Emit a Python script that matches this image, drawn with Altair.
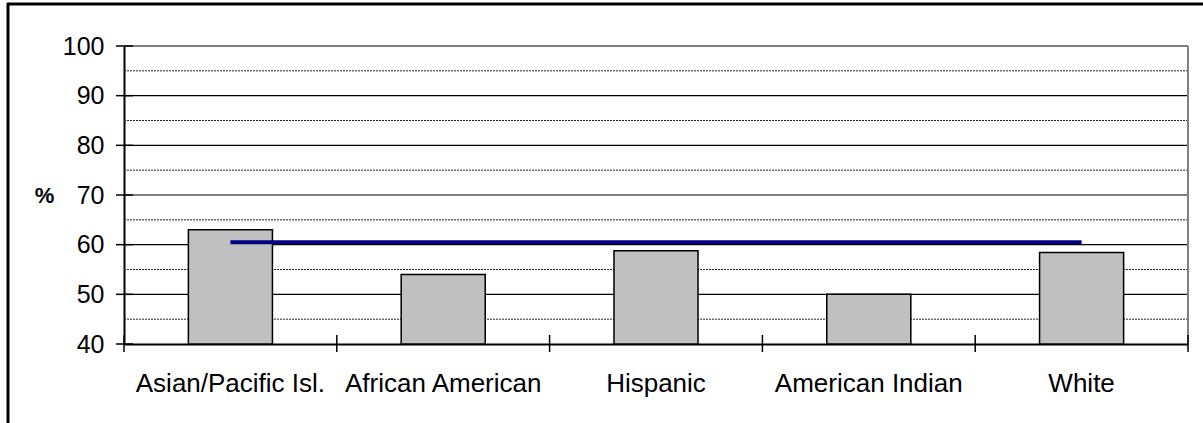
import altair as alt
import pandas as pd

categories = ["Asian/Pacific Isl.", "African American", "Hispanic", "American Indian", "White"]
values = [63.0, 54.0, 58.8, 50.0, 58.4]
overall = [60.5, 60.5, 60.5, 60.5, 60.5]
major_ticks = [40, 50, 60, 70, 80, 90, 100]
major_grid = [50, 60, 70, 80, 90]
minor_grid = [45, 55, 65, 75, 85, 95]

W, H = 1064, 298
FONT = "Liberation Sans"

df = pd.DataFrame({"cat": categories, "val": values, "avg": overall})
x_enc = alt.X("cat:N", sort=categories,
              scale=alt.Scale(paddingInner=0, paddingOuter=0),
              axis=alt.Axis(title=None, labelAngle=0, ticks=False, grid=False,
                            domainColor="black", domainWidth=2, labelLimit=0,
                            labelFont=FONT, labelFontSize=26, labelColor="black",
                            labelPadding=26))
y_scale = alt.Scale(domain=[40, 100], nice=False, zero=False)

minor = alt.Chart(pd.DataFrame({"v": minor_grid})).mark_rule(
    color="#222222", strokeWidth=1, strokeDash=[2, 1]).encode(
    y=alt.Y("v:Q", scale=y_scale))
major = alt.Chart(pd.DataFrame({"v": major_grid})).mark_rule(
    color="black", strokeWidth=1.2).encode(
    y=alt.Y("v:Q", scale=y_scale))

bars = alt.Chart(df).mark_bar(
    width=alt.RelativeBandSize(0.395), color="#C0C0C0", stroke="black", strokeWidth=1.5
).encode(
    x=x_enc,
    y=alt.Y("val:Q", scale=y_scale,
            axis=alt.Axis(values=major_ticks, grid=False, ticks=False,
                          domainColor="black", domainWidth=2,
                          labelFont=FONT, labelFontSize=25, labelColor="black",
                          labelPadding=20,
                          title="%", titleAngle=0, titleFont=FONT, titleFontSize=22,
                          titleFontWeight="bold", titleColor="black",
                          titleAlign="center", titleBaseline="middle",
                          titleX=-80, titleY=149)),
    y2=alt.datum(40),
)

line = alt.Chart(df).mark_line(color="#000080", strokeWidth=4).encode(
    x=alt.X("cat:N", sort=categories),
    y=alt.Y("avg:Q", scale=y_scale),
)

ytick = alt.Chart(pd.DataFrame({"v": major_ticks})).mark_rule(
    color="black", strokeWidth=1.5).encode(
    y=alt.Y("v:Q", scale=y_scale),
    x=alt.value(-8), x2=alt.value(9))

xtick = alt.Chart(df).mark_rule(color="black", strokeWidth=1.5).encode(
    x=alt.X("cat:N", sort=categories, bandPosition=0),
    y=alt.value(H - 9), y2=alt.value(H + 8))

one = pd.DataFrame({"a": [0]})
xtick_end = alt.Chart(one).mark_rule(color="black", strokeWidth=1.5).encode(
    x=alt.value(W), y=alt.value(H - 9), y2=alt.value(H + 8))
right_border = alt.Chart(one).mark_rule(color="#808080", strokeWidth=2).encode(
    x=alt.value(W), y=alt.value(0), y2=alt.value(H))
top_border = alt.Chart(one).mark_rule(color="#808080", strokeWidth=2).encode(
    x=alt.value(0), x2=alt.value(W), y=alt.value(0))
frame_top = alt.Chart(one).mark_rule(color="black", strokeWidth=3).encode(
    x=alt.value(-117), x2=alt.value(W + 20), y=alt.value(-42))
frame_left = alt.Chart(one).mark_rule(color="black", strokeWidth=3).encode(
    x=alt.value(-116), y=alt.value(-43), y2=alt.value(H + 90))

chart = alt.layer(
    minor, major, top_border, right_border, bars, line, ytick, xtick, xtick_end,
    frame_top, frame_left
).properties(
    width=W, height=H,
    autosize=alt.AutoSizeParams(type="none"),
    padding={"left": 124, "top": 46, "right": 15, "bottom": 79},
).configure_view(stroke=None).configure(background="white")

chart.save("out.html", embed_options={"renderer": "svg", "actions": False})
